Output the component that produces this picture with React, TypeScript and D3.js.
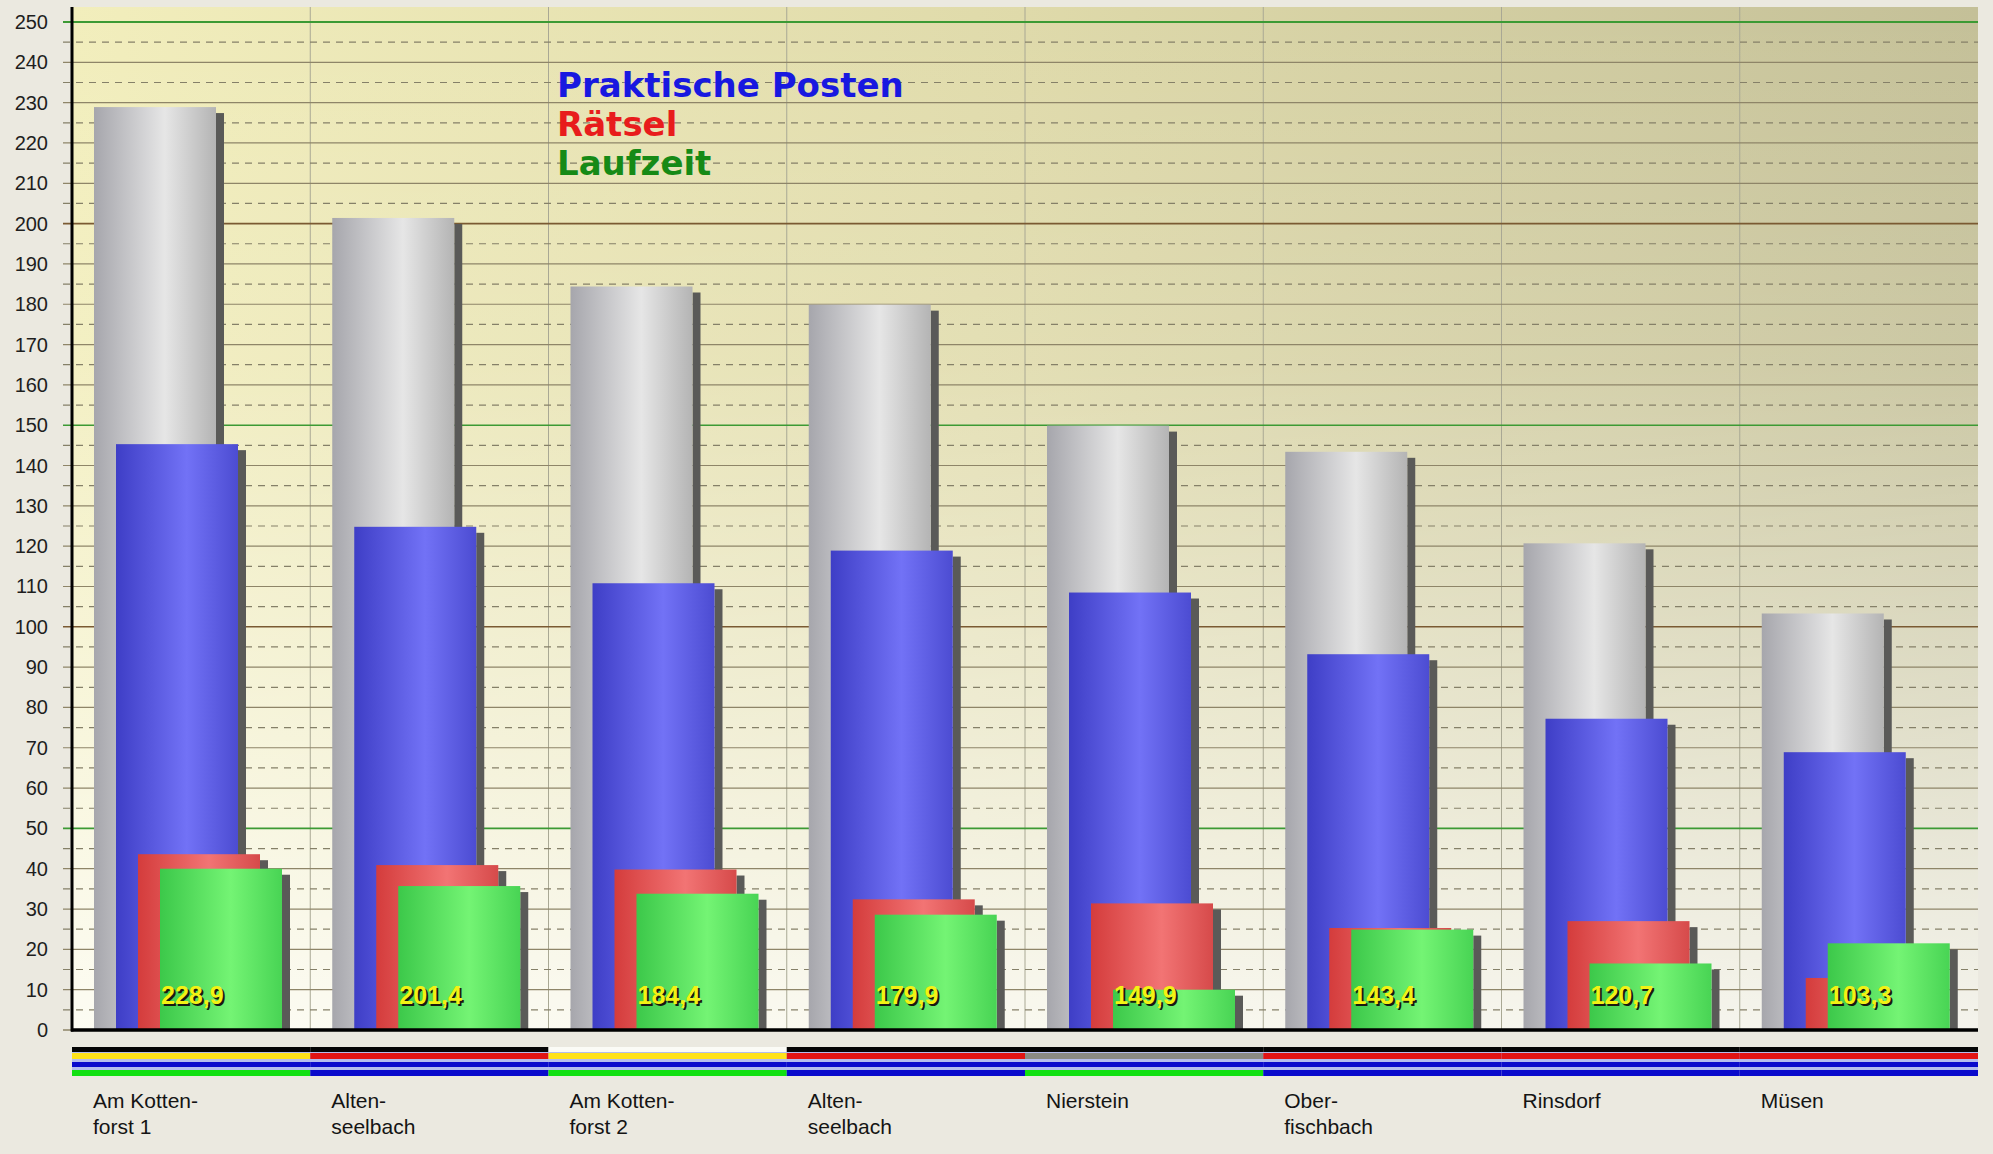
import * as d3 from 'd3'

const categories = [
  ['Am Kotten-', 'forst 1'],
  ['Alten-', 'seelbach'],
  ['Am Kotten-', 'forst 2'],
  ['Alten-', 'seelbach'],
  ['Nierstein'],
  ['Ober-', 'fischbach'],
  ['Rinsdorf'],
  ['Müsen'],
]

const totals = [228.9, 201.4, 184.4, 179.9, 149.9, 143.4, 120.7, 103.3]
const praktischePosten = [145.3, 124.8, 110.8, 118.9, 108.5, 93.2, 77.2, 68.9]
const raetsel = [43.6, 40.9, 39.8, 32.4, 31.4, 25.3, 27.0, 12.9]
const laufzeit = [40.0, 35.7, 33.8, 28.6, 10.0, 24.9, 16.5, 21.5]

const legendItems = ['Praktische Posten', 'Rätsel', 'Laufzeit']

// colour strips under each category (top to bottom)
const flagColors = [
  ['black', 'yellow', 'blue', 'green'],
  ['black', 'red', 'blue', 'blue'],
  ['white', 'yellow', 'blue', 'green'],
  ['black', 'red', 'blue', 'blue'],
  ['black', 'grey', 'blue', 'green'],
  ['black', 'red', 'blue', 'blue'],
  ['black', 'red', 'blue', 'blue'],
  ['black', 'red', 'blue', 'blue'],
]

const yMax = 250

const stripColor: Record<string, string> = {
  black: '#050505',
  yellow: '#ffe21a',
  red: '#e11414',
  blue: '#0a0acc',
  green: '#12e012',
  grey: '#8a8a84',
  white: '#fbfbf6',
}

type Series = { key: string; values: number[]; stops: string[] }

export default function App() {
  const width = 1993
  const height = 1154
  const plot = { left: 72, right: 1978, top: 7, bottom: 1030 }

  const x = d3
    .scaleBand<number>()
    .domain(categories.map((_, i) => i))
    .range([plot.left, plot.right])
    .padding(0)

  const y = d3.scaleLinear().domain([0, yMax]).range([plot.bottom, 22])

  const series: Series[] = [
    { key: 'total', values: totals, stops: ['#a6a6ac', '#e6e6e6', '#b4b4b4'] },
    { key: 'prakt', values: praktischePosten, stops: ['#3e3ec6', '#7272f6', '#4c4cd2'] },
    { key: 'raetsel', values: raetsel, stops: ['#d43c3c', '#f27474', '#d64a4a'] },
    { key: 'lauf', values: laufzeit, stops: ['#3cc84a', '#74f474', '#48d454'] },
  ]

  const offset = d3
    .scalePoint<string>()
    .domain(series.map((s) => s.key))
    .range([22, 88])

  const barWidth = 122
  const shadowW = 8
  const shadowDrop = 6

  const majorTicks = d3.range(0, yMax + 1, 10)
  const minorTicks = d3.range(5, yMax, 10)

  const gridColor = (t: number) => {
    if (t % 50 === 0 && t % 100 !== 0) return '#3c9a34'
    if (t === 250) return '#3c9a34'
    if (t % 100 === 0 && t > 0) return '#7a5a32'
    return '#8e8568'
  }

  const legendColors = ['#1818e0', '#e81c1c', '#168a16']

  const fmt = (v: number) => v.toFixed(1).replace('.', ',')

  const stripRows = [
    { y: 1047, h: 5 },
    { y: 1053, h: 6 },
    { y: 1062, h: 5 },
    { y: 1070, h: 6 },
  ]

  return (
    <div style={{ position: 'fixed', left: 0, top: 0 }}>
      <svg width={width} height={height} style={{ display: 'block' }}>
        <defs>
          <linearGradient id="bgH" x1="0" x2="1" y1="0" y2="0">
            <stop offset="0" stopColor="#f2eebc" />
            <stop offset="0.5" stopColor="#dfdaaa" />
            <stop offset="1" stopColor="#c4c098" />
          </linearGradient>
          <linearGradient id="bgV" x1="0" x2="0" y1="0" y2="1">
            <stop offset="0" stopColor="#ffffff" stopOpacity={0} />
            <stop offset="0.35" stopColor="#ffffff" stopOpacity={0.12} />
            <stop offset="0.7" stopColor="#ffffff" stopOpacity={0.48} />
            <stop offset="1" stopColor="#ffffff" stopOpacity={0.82} />
          </linearGradient>
          {series.map((s) => (
            <linearGradient key={s.key} id={`g-${s.key}`} x1="0" x2="1" y1="0" y2="0">
              <stop offset="0" stopColor={s.stops[0]} />
              <stop offset="0.58" stopColor={s.stops[1]} />
              <stop offset="1" stopColor={s.stops[2]} />
            </linearGradient>
          ))}
        </defs>

        <rect width={width} height={height} fill="#ebe9e0" />

        {/* plot background */}
        <rect
          x={plot.left}
          y={plot.top}
          width={plot.right - plot.left}
          height={plot.bottom - plot.top}
          fill="url(#bgH)"
        />
        <rect
          x={plot.left}
          y={plot.top}
          width={plot.right - plot.left}
          height={plot.bottom - plot.top}
          fill="url(#bgV)"
        />

        {/* vertical category separators */}
        {categories.slice(1).map((_, i) => (
          <line
            key={`v-${i}`}
            x1={x(i + 1)}
            x2={x(i + 1)}
            y1={plot.top}
            y2={plot.bottom}
            stroke="#a9a894"
            strokeWidth={1}
          />
        ))}

        {/* grid lines */}
        {minorTicks.map((t) => (
          <line
            key={`mn-${t}`}
            x1={63}
            x2={plot.right}
            y1={y(t)}
            y2={y(t)}
            stroke="#858068"
            strokeWidth={1.2}
            strokeDasharray="7 6"
          />
        ))}
        {majorTicks.map((t) => (
          <line
            key={`mj-${t}`}
            x1={63}
            x2={plot.right}
            y1={y(t)}
            y2={y(t)}
            stroke={gridColor(t)}
            strokeWidth={t === 250 ? 2.2 : t % 50 === 0 ? 1.6 : 1.2}
          />
        ))}

        {/* y tick labels */}
        {majorTicks.map((t) => (
          <text
            key={`yl-${t}`}
            x={48}
            y={y(t) + 7}
            textAnchor="end"
            fontFamily="Liberation Sans, Arial, sans-serif"
            fontSize={20}
            fill="#1e1e1e"
          >
            {t}
          </text>
        ))}

        {/* bars */}
        {series.map((s) => (
          <g key={s.key}>
            {s.values.map((v, i) => {
              const bx = (x(i) ?? 0) + (offset(s.key) ?? 0)
              const top = y(v)
              return (
                <g key={i}>
                  <rect
                    x={bx + barWidth}
                    y={top + shadowDrop}
                    width={shadowW}
                    height={plot.bottom - top - shadowDrop}
                    fill="#5a5a58"
                  />
                  <rect
                    x={bx}
                    y={top}
                    width={barWidth}
                    height={plot.bottom - top}
                    fill={`url(#g-${s.key})`}
                  />
                </g>
              )
            })}
          </g>
        ))}

        {/* value labels */}
        {totals.map((v, i) => {
          const tx = (x(i) ?? 0) + 89
          return (
            <g key={`val-${i}`} fontFamily="Liberation Sans Narrow, Arial Narrow, sans-serif" fontWeight="bold" fontSize={25}>
              <text x={tx + 2} y={1006} fill="#1a1a10">
                {fmt(v)}
              </text>
              <text x={tx} y={1004} fill="#f2f214">
                {fmt(v)}
              </text>
            </g>
          )
        })}

        {/* axes */}
        <line x1={plot.left} x2={plot.left} y1={plot.top} y2={plot.bottom + 1.5} stroke="#000" strokeWidth={3} />
        <line x1={plot.left - 1} x2={plot.right} y1={plot.bottom} y2={plot.bottom} stroke="#000" strokeWidth={3.5} />

        {/* legend */}
        {legendItems.map((name, i) => (
          <text
            key={name}
            x={557}
            y={97 + i * 39}
            fontFamily="DejaVu Sans, Verdana, sans-serif"
            fontWeight="bold"
            fontSize={34}
            fill={legendColors[i]}
          >
            {name}
          </text>
        ))}

        {/* colour strips */}
        <rect x={plot.left} y={1052} width={plot.right - plot.left} height={19} fill="#b4bcee" />
        {flagColors.map((cols, i) =>
          cols.map((c, r) => (
            <rect
              key={`s-${i}-${r}`}
              x={x(i)}
              y={stripRows[r].y}
              width={x.bandwidth()}
              height={stripRows[r].h}
              fill={stripColor[c]}
            />
          ))
        )}

        {/* category labels */}
        {categories.map((lines, i) => (
          <text
            key={`cat-${i}`}
            x={(x(i) ?? 0) + 21}
            y={1108}
            fontFamily="Liberation Sans, Arial, sans-serif"
            fontSize={21}
            fill="#141414"
          >
            {lines.map((ln, j) => (
              <tspan key={j} x={(x(i) ?? 0) + 21} dy={j === 0 ? 0 : 26}>
                {ln}
              </tspan>
            ))}
          </text>
        ))}
      </svg>
    </div>
  )
}
